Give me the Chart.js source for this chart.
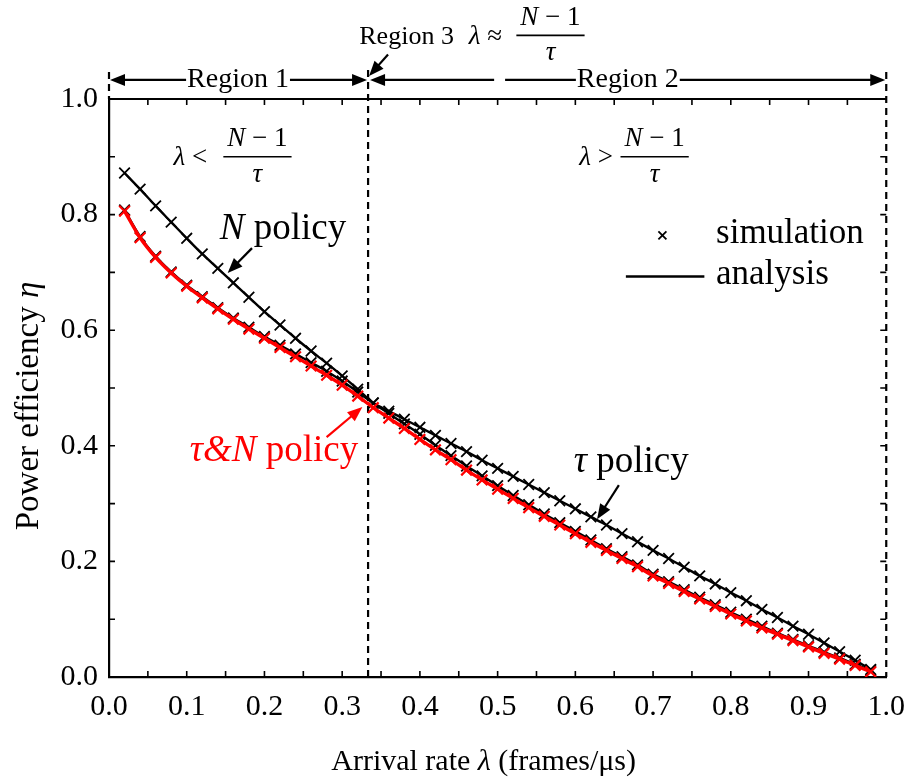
<!DOCTYPE html>
<html>
<head>
<meta charset="utf-8">
<script src="https://cdn.jsdelivr.net/npm/chart.js@4.4.0/dist/chart.umd.min.js"></script>
<style>
  html, body { margin: 0; padding: 0; background: #ffffff; }
  #wrap { width: 917px; height: 779px; position: relative; }
</style>
</head>
<body>
<div id="wrap"><canvas id="c" width="917" height="779"></canvas></div>
<script>
// Arrival rate λ (frames/μs) at which each policy was evaluated
const arrivalRate = [
  0.02, 0.04, 0.06, 0.08, 0.10, 0.12, 0.14, 0.16, 0.18, 0.20,
  0.22, 0.24, 0.26, 0.28, 0.30, 0.32, 0.34, 0.36, 0.38, 0.40,
  0.42, 0.44, 0.46, 0.48, 0.50, 0.52, 0.54, 0.56, 0.58, 0.60,
  0.62, 0.64, 0.66, 0.68, 0.70, 0.72, 0.74, 0.76, 0.78, 0.80,
  0.82, 0.84, 0.86, 0.88, 0.90, 0.92, 0.94, 0.96, 0.98
];

// Power efficiency η, τ&N policy
const etaTauN = [
  0.806, 0.760, 0.726, 0.699, 0.676, 0.656, 0.637, 0.619, 0.602, 0.586,
  0.570, 0.554, 0.538, 0.522, 0.505, 0.486, 0.466, 0.448, 0.430, 0.411,
  0.393, 0.376, 0.358, 0.341, 0.325, 0.309, 0.293, 0.278, 0.263, 0.248,
  0.233, 0.219, 0.205, 0.191, 0.175, 0.162, 0.148, 0.135, 0.122, 0.109,
  0.097, 0.085, 0.074, 0.063, 0.052, 0.041, 0.031, 0.020, 0.009
];

// Power efficiency η, N policy
const etaN = [
  0.872, 0.844, 0.815, 0.787, 0.759, 0.732, 0.707, 0.682, 0.657, 0.632,
  0.609, 0.586, 0.564, 0.543, 0.521, 0.498, 0.474, 0.456, 0.438, 0.420,
  0.401, 0.383, 0.365, 0.348, 0.331, 0.314, 0.298, 0.282, 0.267, 0.252,
  0.237, 0.222, 0.208, 0.194, 0.178, 0.165, 0.151, 0.138, 0.125, 0.112,
  0.100, 0.088, 0.076, 0.065, 0.054, 0.043, 0.033, 0.022, 0.011
];

// Power efficiency η, τ policy
const etaTau = [
  0.808, 0.762, 0.728, 0.701, 0.678, 0.658, 0.639, 0.621, 0.605, 0.589,
  0.574, 0.559, 0.544, 0.529, 0.512, 0.493, 0.474, 0.460, 0.446, 0.432,
  0.418, 0.404, 0.390, 0.375, 0.361, 0.347, 0.333, 0.319, 0.305, 0.291,
  0.277, 0.263, 0.248, 0.234, 0.219, 0.205, 0.190, 0.175, 0.161, 0.146,
  0.132, 0.117, 0.103, 0.088, 0.074, 0.059, 0.044, 0.029, 0.013
];

// Axis tick labels
const xTickLabels = ['0.0', '0.1', '0.2', '0.3', '0.4', '0.5', '0.6', '0.7', '0.8', '0.9', '1.0'];
const yTickLabels = ['0.0', '0.2', '0.4', '0.6', '0.8', '1.0'];

// Boundary between region 1 and region 2: λ = (N − 1)/τ
const regionBoundary = 1 / 3;

const SERIF = '"Liberation Serif", "Times New Roman", serif';
const RED = '#ff0000';
const BLACK = '#000000';

function toPoints(ys) {
  return arrivalRate.map((x, i) => ({ x: x, y: ys[i] }));
}

function seriesStyle(color, lineWidth, markerWidth) {
  return {
    borderColor: color,
    backgroundColor: color,
    borderWidth: lineWidth,
    pointStyle: 'crossRot',
    pointRadius: 7.5,
    pointBorderColor: color,
    pointBorderWidth: markerWidth,
    pointHoverRadius: 7.5,
    cubicInterpolationMode: 'monotone',
    fill: false
  };
}

// Draw a sequence of text runs (regular / italic) starting at x, vertically centred on y
function drawRuns(ctx, runs, x, y, size, color, align) {
  ctx.save();
  ctx.fillStyle = color;
  ctx.textBaseline = 'middle';
  ctx.textAlign = 'left';
  let total = 0;
  const widths = runs.map(r => {
    ctx.font = (r.italic ? 'italic ' : '') + size + 'px ' + SERIF;
    const w = ctx.measureText(r.t).width;
    total += w;
    return w;
  });
  let cx = x;
  if (align === 'center') cx = x - total / 2;
  if (align === 'right') cx = x - total;
  const start = cx;
  runs.forEach((r, i) => {
    ctx.font = (r.italic ? 'italic ' : '') + size + 'px ' + SERIF;
    ctx.fillText(r.t, cx, y);
    cx += widths[i];
  });
  ctx.restore();
  return { left: start, right: start + total };
}

// (N − 1) / τ stacked fraction centred on (cx, cy)
function drawFraction(ctx, cx, cy, size) {
  const num = [{ t: 'N', italic: true }, { t: ' \u2212 1', italic: false }];
  const ext = drawRuns(ctx, num, cx, cy - size * 0.66, size, BLACK, 'center');
  const half = (ext.right - ext.left) / 2 + 4;
  ctx.save();
  ctx.strokeStyle = BLACK;
  ctx.lineWidth = 1.6;
  ctx.beginPath();
  ctx.moveTo(cx - half, cy);
  ctx.lineTo(cx + half, cy);
  ctx.stroke();
  ctx.restore();
  drawRuns(ctx, [{ t: '\u03C4', italic: true }], cx, cy + size * 0.66, size, BLACK, 'center');
  return { left: cx - half, right: cx + half };
}

function arrowHead(ctx, x1, y1, x2, y2, len, half, color) {
  const a = Math.atan2(y2 - y1, x2 - x1);
  ctx.save();
  ctx.fillStyle = color;
  ctx.beginPath();
  ctx.moveTo(x2, y2);
  ctx.lineTo(x2 - len * Math.cos(a) + half * Math.sin(a), y2 - len * Math.sin(a) - half * Math.cos(a));
  ctx.lineTo(x2 - len * Math.cos(a) - half * Math.sin(a), y2 - len * Math.sin(a) + half * Math.cos(a));
  ctx.closePath();
  ctx.fill();
  ctx.restore();
}

function arrow(ctx, x1, y1, x2, y2, color, width) {
  const a = Math.atan2(y2 - y1, x2 - x1);
  ctx.save();
  ctx.strokeStyle = color;
  ctx.lineWidth = width;
  ctx.beginPath();
  ctx.moveTo(x1, y1);
  ctx.lineTo(x2 - 10 * Math.cos(a), y2 - 10 * Math.sin(a));
  ctx.stroke();
  ctx.restore();
  arrowHead(ctx, x1, y1, x2, y2, 15, 6, color);
}

function hLine(ctx, x1, x2, y, width) {
  ctx.save();
  ctx.strokeStyle = BLACK;
  ctx.lineWidth = width;
  ctx.beginPath();
  ctx.moveTo(x1, y);
  ctx.lineTo(x2, y);
  ctx.stroke();
  ctx.restore();
}

function vDashed(ctx, x, y1, y2) {
  ctx.save();
  ctx.strokeStyle = BLACK;
  ctx.lineWidth = 2.2;
  ctx.setLineDash([7, 5]);
  ctx.beginPath();
  ctx.moveTo(x, y1);
  ctx.lineTo(x, y2);
  ctx.stroke();
  ctx.restore();
}

// Frame, inward ticks and dashed region boundaries (under the curves)
const framePlugin = {
  id: 'frame',
  beforeDatasetsDraw(chart) {
    const ctx = chart.ctx;
    const xs = chart.scales.x, ys = chart.scales.y;
    const X = v => xs.getPixelForValue(v);
    const Y = v => ys.getPixelForValue(v);
    const L = X(0), R = X(1), T = Y(1), B = Y(0);
    const rowY = Y(1.033);

    // top border
    hLine(ctx, L, R, T, 2.2);

    // inward ticks
    ctx.save();
    ctx.strokeStyle = BLACK;
    ctx.lineWidth = 1.6;
    ctx.beginPath();
    for (let i = 1; i < 20; i++) {
      const px = X(i * 0.05);
      ctx.moveTo(px, B); ctx.lineTo(px, B - 6);
      ctx.moveTo(px, T); ctx.lineTo(px, T + 6);
    }
    for (let i = 1; i < 10; i++) {
      const py = Y(i * 0.1);
      ctx.moveTo(L, py); ctx.lineTo(L + 6, py);
      ctx.moveTo(R, py); ctx.lineTo(R - 6, py);
    }
    ctx.stroke();
    ctx.restore();

    // dashed boundaries
    vDashed(ctx, L, rowY - 8, T);
    vDashed(ctx, R, rowY - 8, B);
    vDashed(ctx, X(regionBoundary), rowY - 10, B);
  }
};

// Text annotations, region arrows, legend and axis titles
const annotatePlugin = {
  id: 'annotate',
  afterDatasetsDraw(chart) {
    const ctx = chart.ctx;
    const xs = chart.scales.x, ys = chart.scales.y;
    const X = v => xs.getPixelForValue(v);
    const Y = v => ys.getPixelForValue(v);
    const L = X(0), R = X(1), T = Y(1), B = Y(0);
    const mid = X(regionBoundary);
    const rowY = Y(1.033);
    const rs = 28;

    // Region 1  <—— Region 1 ——>
    const r1 = drawRuns(ctx, [{ t: 'Region 1' }], X(0.166), rowY, rs, BLACK, 'center');
    hLine(ctx, L + 8, r1.left - 1, rowY, 2.2);
    arrowHead(ctx, r1.left, rowY, L + 1, rowY, 15, 6, BLACK);
    hLine(ctx, r1.right + 1, mid - 8, rowY, 2.2);
    arrowHead(ctx, r1.right, rowY, mid - 1, rowY, 15, 6, BLACK);

    // Region 2  <——   ——Region 2——>
    hLine(ctx, mid + 8, X(0.4955), rowY, 2.2);
    arrowHead(ctx, X(0.4955), rowY, mid + 2, rowY, 15, 6, BLACK);
    const r2 = drawRuns(ctx, [{ t: 'Region 2' }], X(0.6675), rowY, rs, BLACK, 'center');
    hLine(ctx, X(0.5096), r2.left - 1, rowY, 2.2);
    hLine(ctx, r2.right + 1, R - 8, rowY, 2.2);
    arrowHead(ctx, r2.right, rowY, R - 1, rowY, 15, 6, BLACK);

    // Region 3  λ ≈ (N − 1)/τ
    drawRuns(ctx, [{ t: 'Region 3' }], X(0.322), Y(1.107), 26, BLACK, 'left');
    drawRuns(ctx, [{ t: '\u03BB', italic: true }, { t: ' \u2248' }], X(0.463), Y(1.107), 27, BLACK, 'left');
    drawFraction(ctx, X(0.568), Y(1.110), 27);
    arrow(ctx, X(0.359), Y(1.077), mid + 1, Y(1.040), BLACK, 2.2);

    // λ < (N − 1)/τ   and   λ > (N − 1)/τ
    drawRuns(ctx, [{ t: '\u03BB', italic: true }, { t: ' <' }], X(0.083), Y(0.898), 27, BLACK, 'left');
    drawFraction(ctx, X(0.191), Y(0.900), 27);
    drawRuns(ctx, [{ t: '\u03BB', italic: true }, { t: ' >' }], X(0.605), Y(0.898), 27, BLACK, 'left');
    drawFraction(ctx, X(0.702), Y(0.900), 27);

    // Curve labels
    drawRuns(ctx, [{ t: 'N', italic: true }, { t: ' policy' }], X(0.1425), Y(0.775), 37, BLACK, 'left');
    arrow(ctx, X(0.184), Y(0.742), X(0.1527), Y(0.699), BLACK, 2.2);

    drawRuns(ctx, [{ t: '\u03C4&', italic: true }, { t: 'N', italic: true }, { t: ' policy' }], X(0.104), Y(0.390), 37, RED, 'left');
    arrow(ctx, X(0.280), Y(0.415), X(0.326), Y(0.467), RED, 2.2);

    drawRuns(ctx, [{ t: '\u03C4', italic: true }, { t: ' policy' }], X(0.598), Y(0.372), 37, BLACK, 'left');
    arrow(ctx, X(0.656), Y(0.332), X(0.628), Y(0.273), BLACK, 2.2);

    // Legend
    const lx = X(0.712), ly1 = Y(0.764), ly2 = Y(0.693);
    ctx.save();
    ctx.strokeStyle = BLACK;
    ctx.lineWidth = 1.8;
    ctx.beginPath();
    ctx.moveTo(lx - 4, ly1 - 4); ctx.lineTo(lx + 4, ly1 + 4);
    ctx.moveTo(lx - 4, ly1 + 4); ctx.lineTo(lx + 4, ly1 - 4);
    ctx.stroke();
    ctx.restore();
    hLine(ctx, X(0.665), X(0.766), ly2, 2.4);
    drawRuns(ctx, [{ t: 'simulation' }], X(0.781), ly1 - 2, 35, BLACK, 'left');
    drawRuns(ctx, [{ t: 'analysis' }], X(0.781), ly2 - 2, 35, BLACK, 'left');

    // Axis titles
    drawRuns(ctx, [{ t: 'Arrival rate ' }, { t: '\u03BB', italic: true }, { t: ' (frames/\u03BCs)' }],
      (L + R) / 2 - 14, 762, 30, BLACK, 'center');
    ctx.save();
    ctx.translate(29, 406);
    ctx.rotate(-Math.PI / 2);
    drawRuns(ctx, [{ t: 'Power efficiency ' }, { t: '\u03B7', italic: true }], 0, 0, 33, BLACK, 'center');
    ctx.restore();
  }
};

const chart = new Chart(document.getElementById('c'), {
  type: 'line',
  data: {
    datasets: [
      Object.assign({ label: '\u03C4&N policy', data: toPoints(etaTauN) }, seriesStyle(RED, 3.4, 2.2)),
      Object.assign({ label: 'N policy', data: toPoints(etaN) }, seriesStyle(BLACK, 2.4, 1.8)),
      Object.assign({ label: '\u03C4 policy', data: toPoints(etaTau) }, seriesStyle(BLACK, 2.4, 1.8))
    ]
  },
  options: {
    responsive: false,
    animation: false,
    devicePixelRatio: 1,
    layout: { padding: { top: 99, right: 29, left: 0, bottom: 0 } },
    plugins: { legend: { display: false }, tooltip: { enabled: false } },
    scales: {
      x: {
        type: 'linear',
        min: 0,
        max: 1,
        afterFit(scale) { scale.height = 102; },
        grid: { display: false, drawTicks: false },
        border: { display: true, color: BLACK, width: 2.2 },
        ticks: {
          stepSize: 0.1,
          padding: 12,
          color: BLACK,
          font: { family: SERIF, size: 30 },
          maxRotation: 0,
          callback: (v) => {
            const i = Math.round(v * 10);
            return Math.abs(v * 10 - i) < 1e-6 ? xTickLabels[i] : '';
          }
        }
      },
      y: {
        type: 'linear',
        min: 0,
        max: 1,
        afterFit(scale) { scale.width = 109; },
        grid: { display: false, drawTicks: false },
        border: { display: true, color: BLACK, width: 2.2 },
        ticks: {
          stepSize: 0.2,
          padding: 11,
          color: BLACK,
          font: { family: SERIF, size: 30 },
          callback: (v) => {
            const i = Math.round(v * 5);
            return Math.abs(v * 5 - i) < 1e-6 ? yTickLabels[i] : '';
          }
        }
      }
    }
  },
  plugins: [framePlugin, annotatePlugin]
});
</script>
</body>
</html>
